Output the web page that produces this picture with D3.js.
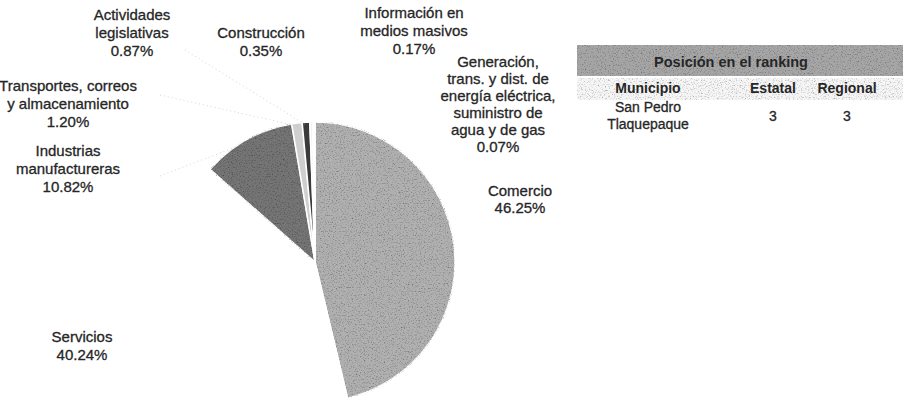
<!DOCTYPE html>
<html>
<head>
<meta charset="utf-8">
<script src="https://cdn.jsdelivr.net/npm/d3@7"></script>
<style>
  body { margin: 0; background: #fff; }
  text { font-family: "Liberation Sans", Arial, sans-serif; fill: #262626; }
</style>
</head>
<body>
<div id="chart"></div>
<script>
// data
var categories = [
  "Comercio",
  "Servicios",
  "Industrias manufactureras",
  "Transportes, correos y almacenamiento",
  "Actividades legislativas",
  "Construcción",
  "Información en medios masivos",
  "Generación, trans. y dist. de energía eléctrica, suministro de agua y de gas"
];
var shares = [46.25, 40.24, 10.82, 1.20, 0.87, 0.35, 0.17, 0.07];

// how each label is broken into lines
var labelLines = [
  ["Comercio"],
  ["Servicios"],
  ["Industrias", "manufactureras"],
  ["Transportes, correos", "y almacenamiento"],
  ["Actividades", "legislativas"],
  ["Construcción"],
  ["Información en", "medios masivos"],
  ["Generación,", "trans. y dist. de", "energía eléctrica,", "suministro de", "agua y de gas"]
];

var rankTitle = "Posición en el ranking";
var rankHeaders = ["Municipio", "Estatal", "Regional"];
var rankRow = [["San Pedro", "Tlaquepaque"], ["3"], ["3"]];

// layout
var width = 903;
var height = 405;
var cx = 315, cy = 262, radius = 140;

var sliceColors = ["#b0b0b0", "#ffffff", "#747474", "#cfcfcf", "#3a3a3a", "#f4f4f4", "#1e1e1e", "#ffffff"];

// label anchor (centre x, first line centre y) and line step
var labelPos = [
  { x: 520, y: 191, step: 17 },
  { x: 82, y: 337, step: 18 },
  { x: 68, y: 151, step: 18 },
  { x: 68, y: 86, step: 18 },
  { x: 132, y: 15, step: 18 },
  { x: 261, y: 33, step: 18 },
  { x: 414, y: 13, step: 18 },
  { x: 498, y: 62, step: 17 }
];

var svg = d3.select("#chart")
  .append("svg")
  .attr("width", width)
  .attr("height", height);

// grainy scan look
var defs = svg.append("defs");
var grain = defs.append("filter").attr("id", "grain")
  .attr("x", 0).attr("y", 0).attr("width", 1).attr("height", 1);
grain.append("feTurbulence")
  .attr("type", "fractalNoise")
  .attr("baseFrequency", 0.75)
  .attr("numOctaves", 2)
  .attr("seed", 7)
  .attr("result", "noise");
grain.append("feColorMatrix")
  .attr("in", "noise")
  .attr("type", "matrix")
  .attr("values", "1.6 0 0 0 0.2  1.6 0 0 0 0.2  1.6 0 0 0 0.2  0 0 0 0 1")
  .attr("result", "dots");
grain.append("feBlend")
  .attr("in", "SourceGraphic")
  .attr("in2", "dots")
  .attr("mode", "multiply")
  .attr("result", "mixed");
grain.append("feComposite")
  .attr("in", "mixed")
  .attr("in2", "SourceGraphic")
  .attr("operator", "in");

var pie = d3.pie().sort(null).value(d => d);
var arcs = pie(shares);

var arc = d3.arc().innerRadius(0).outerRadius(radius);

var pieG = svg.append("g")
  .attr("transform", "translate(" + cx + "," + cy + ")");

pieG.selectAll("path")
  .data(arcs)
  .enter()
  .append("path")
  .attr("d", arc)
  .attr("fill", (d, i) => sliceColors[i])
  .attr("stroke", "#fff")
  .attr("stroke-width", 1.5)
  .attr("filter", (d, i) => i === 0 || i === 2 ? "url(#grain)" : null);

// faint leader lines from labels to their slices
var edgeArc = d3.arc().innerRadius(radius).outerRadius(radius);
var leaders = [
  null, null,
  { x: 160, y: 176 },
  { x: 160, y: 95 },
  { x: 185, y: 50 },
  null, null, null
];
arcs.forEach(function(a, i) {
  if (!leaders[i]) return;
  var p = edgeArc.centroid(a);
  svg.append("line")
    .attr("x1", leaders[i].x)
    .attr("y1", leaders[i].y)
    .attr("x2", cx + p[0] * 0.98)
    .attr("y2", cy + p[1] * 0.98)
    .attr("stroke", "#aaa")
    .attr("stroke-width", 1)
    .attr("stroke-dasharray", "1,3")
    .attr("opacity", 0.5);
});

// labels
var fmt = d3.format(".2f");
var labels = svg.append("g");
categories.forEach(function(c, i) {
  var lines = labelLines[i].concat([fmt(shares[i]) + "%"]);
  var pos = labelPos[i];
  var t = labels.append("text")
    .attr("text-anchor", "middle")
    .attr("font-size", 15)
    .attr("stroke", "#262626")
    .attr("stroke-width", 0.3);
  lines.forEach(function(l, j) {
    t.append("tspan")
      .attr("x", pos.x)
      .attr("y", pos.y + j * pos.step)
      .attr("dy", "0.35em")
      .text(l);
  });
});

// ranking table
var table = svg.append("g");
var tx0 = 577, tx1 = 903;
var colX = [648, 773, 847];

table.append("rect")
  .attr("x", tx0).attr("y", 45)
  .attr("width", tx1 - tx0).attr("height", 31)
  .attr("fill", "#a6a6a6")
  .attr("filter", "url(#grain)");

table.append("rect")
  .attr("x", tx0).attr("y", 78)
  .attr("width", tx1 - tx0).attr("height", 22)
  .attr("fill", "#f6f6f6")
  .attr("filter", "url(#grain)");

table.append("text")
  .attr("x", 731)
  .attr("y", 62)
  .attr("dy", "0.35em")
  .attr("text-anchor", "middle")
  .attr("font-size", 14.5)
  .attr("font-weight", "bold")
  .attr("fill", "#111")
  .text(rankTitle);

table.selectAll(".head")
  .data(rankHeaders)
  .enter()
  .append("text")
  .attr("class", "head")
  .attr("x", (d, i) => colX[i])
  .attr("y", 88)
  .attr("dy", "0.35em")
  .attr("text-anchor", "middle")
  .attr("font-size", 14)
  .attr("font-weight", "bold")
  .attr("fill", "#111")
  .text(d => d);

rankRow.forEach(function(cell, i) {
  var t = table.append("text")
    .attr("text-anchor", "middle")
    .attr("font-size", 14)
    .attr("stroke", "#262626")
    .attr("stroke-width", 0.3);
  var y0 = 116 - (cell.length - 1) * 8.5;
  cell.forEach(function(l, j) {
    t.append("tspan")
      .attr("x", colX[i])
      .attr("y", y0 + j * 17)
      .attr("dy", "0.35em")
      .text(l);
  });
});
</script>
</body>
</html>
